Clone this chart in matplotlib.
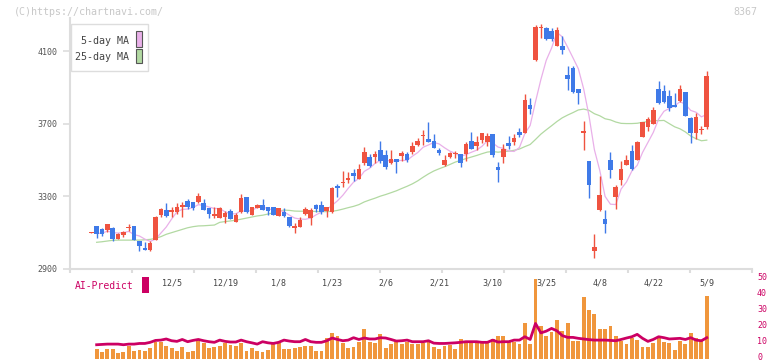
import numpy as np
import pandas as pd
import matplotlib
matplotlib.use("Agg")
import matplotlib.pyplot as plt
from matplotlib.patches import Rectangle
from matplotlib.transforms import blended_transform_factory

# ---------------- data ----------------
opens = [3100, 3136, 3120, 3114, 3127, 3065, 3087, 3126, 3136, 3054,
         3017, 3004, 3059, 3197, 3225, 3212, 3214, 3241, 3274, 3267,
         3270, 3261, 3237, 3192, 3179, 3188, 3219, 3160, 3215, 3294,
         3197, 3237, 3252, 3241, 3241, 3193, 3215, 3186, 3124, 3133,
         3201, 3182, 3252, 3252, 3219, 3215, 3357, 3372, 3390, 3427,
         3397, 3485, 3516, 3518, 3555, 3527, 3482, 3505, 3524, 3533,
         3544, 3583, 3630, 3616, 3605, 3555, 3472, 3518, 3535, 3533,
         3535, 3603, 3577, 3612, 3599, 3643, 3461, 3516, 3594, 3597,
         3654, 3649, 3801, 4052, 4225, 4227, 4208, 4129, 4126, 3970,
         4006, 3891, 3647, 3494, 2999, 3225, 3175, 3500, 3294, 3390,
         3472, 3551, 3500, 3628, 3683, 3698, 3891, 3880, 3852, 3803,
         3825, 3874, 3729, 3650, 3663, 3680]
highs = [3104, 3137, 3127, 3149, 3133, 3096, 3111, 3148, 3137, 3055,
         3050, 3054, 3192, 3237, 3261, 3243, 3261, 3270, 3283, 3268,
         3316, 3285, 3238, 3241, 3241, 3219, 3228, 3206, 3311, 3295,
         3240, 3256, 3285, 3242, 3242, 3238, 3234, 3187, 3155, 3184,
         3239, 3234, 3259, 3274, 3242, 3349, 3368, 3439, 3434, 3449,
         3476, 3573, 3533, 3551, 3605, 3555, 3555, 3506, 3551, 3546,
         3601, 3619, 3665, 3711, 3643, 3564, 3527, 3546, 3551, 3534,
         3599, 3652, 3630, 3648, 3649, 3644, 3489, 3588, 3632, 3643,
         3676, 3863, 3841, 4245, 4249, 4232, 4227, 4230, 4181, 4016,
         4016, 3893, 3717, 3495, 3093, 3412, 3225, 3544, 3361, 3494,
         3527, 3583, 3606, 3710, 3735, 3790, 3935, 3913, 3885, 3867,
         3913, 3875, 3739, 3761, 3689, 3990]
lows = [3099, 3069, 3083, 3105, 3054, 3065, 3078, 3109, 3058, 3001,
        3005, 2999, 3058, 3188, 3184, 3188, 3201, 3188, 3230, 3225,
        3261, 3224, 3182, 3182, 3178, 3155, 3174, 3159, 3210, 3206,
        3196, 3234, 3225, 3197, 3196, 3192, 3188, 3133, 3100, 3132,
        3197, 3142, 3212, 3201, 3188, 3206, 3298, 3349, 3375, 3384,
        3396, 3472, 3460, 3482, 3482, 3449, 3478, 3430, 3494, 3491,
        3531, 3577, 3583, 3598, 3567, 3527, 3467, 3513, 3511, 3463,
        3496, 3561, 3555, 3594, 3575, 3515, 3379, 3485, 3559, 3584,
        3628, 3648, 3755, 4047, 4172, 4162, 4157, 4128, 4083, 3887,
        3869, 3810, 3555, 3293, 2962, 3221, 3100, 3403, 3232, 3362,
        3471, 3445, 3499, 3627, 3661, 3697, 3806, 3812, 3770, 3793,
        3817, 3741, 3595, 3617, 3643, 3669]
closes = [3102, 3092, 3094, 3148, 3065, 3091, 3103, 3128, 3060, 3026,
          3006, 3041, 3186, 3230, 3192, 3225, 3241, 3252, 3241, 3234,
          3302, 3225, 3203, 3201, 3234, 3210, 3175, 3197, 3289, 3215,
          3239, 3252, 3226, 3219, 3197, 3237, 3192, 3138, 3138, 3170,
          3230, 3225, 3228, 3212, 3241, 3348, 3348, 3381, 3401, 3412,
          3449, 3544, 3467, 3533, 3496, 3463, 3505, 3487, 3537, 3500,
          3577, 3605, 3633, 3599, 3568, 3537, 3500, 3540, 3540, 3482,
          3588, 3562, 3599, 3647, 3634, 3529, 3447, 3561, 3577, 3621,
          3639, 3830, 3783, 4232, 4229, 4168, 4168, 4217, 4107, 3948,
          3874, 3867, 3660, 3362, 3021, 3307, 3148, 3445, 3353, 3450,
          3500, 3449, 3601, 3709, 3724, 3775, 3816, 3817, 3788, 3794,
          3891, 3742, 3650, 3737, 3667, 3962]

# 25-day MA for the first candles (earlier history not shown)
ma25_head = [3047, 3050, 3054, 3058, 3059, 3059, 3059, 3059, 3059, 3061,
             3063, 3069, 3078, 3091, 3100, 3109, 3118, 3127, 3133, 3137,
             3138, 3140, 3142]

# volume (candles 1..115)
volume = [5.9, 4.1, 5.9, 5.9, 3.5, 4.1, 8.0, 4.7, 5.3, 4.7,
          6.7, 10.6, 10.6, 8.0, 6.7, 4.7, 7.3, 4.1, 4.7, 11.2,
          9.4, 6.7, 7.3, 8.0, 9.4, 8.5, 8.0, 9.4, 4.7, 6.7,
          4.7, 4.1, 5.3, 9.4, 9.4, 5.9, 5.9, 6.7, 7.3, 8.0,
          8.0, 4.7, 4.7, 12.8, 15.9, 14.0, 9.4, 6.7, 7.3, 10.6,
          18.4, 10.6, 9.4, 15.3, 6.7, 9.3, 10.2, 9.3, 10.2, 9.3,
          9.3, 9.4, 10.2, 7.3, 5.9, 8.0, 8.5, 5.9, 12.0, 9.4,
          10.2, 10.2, 10.2, 9.4, 12.0, 14.0, 14.0, 10.2, 10.2, 9.0,
          22.2, 9.0, 49.7, 20.4, 14.0, 16.5, 24.0, 17.2, 22.2, 11.1,
          11.1, 38.4, 30.3, 27.8, 18.4, 18.4, 20.4, 14.0, 11.1, 9.0,
          13.0, 11.5, 7.2, 7.2, 9.4, 13.6, 10.5, 9.4, 5.3, 11.1,
          9.0, 15.9, 13.0, 11.1, 39.0]

# AI-Predict line (candles 1..115)
ai_predict = [8.6, 8.8, 9.0, 9.0, 9.0, 8.6, 9.0, 9.0, 9.4, 9.4,
              10.1, 11.3, 11.5, 12.2, 11.1, 10.7, 11.9, 10.5, 11.3, 11.9,
              11.1, 10.5, 10.1, 11.5, 10.7, 10.3, 10.3, 11.5, 10.5, 9.8,
              9.0, 10.5, 9.8, 9.4, 10.1, 11.5, 10.9, 10.5, 10.5, 11.9,
              10.5, 10.1, 10.1, 11.1, 12.8, 11.9, 11.1, 11.5, 13.0, 11.9,
              12.8, 12.2, 12.2, 13.0, 12.8, 11.9, 10.9, 11.1, 11.5, 10.5,
              10.5, 10.5, 11.1, 9.6, 9.4, 9.4, 9.6, 9.8, 10.1, 10.5,
              10.5, 10.5, 10.1, 10.1, 11.5, 10.3, 10.5, 10.5, 11.5, 11.5,
              13.6, 11.9, 21.9, 16.0, 17.1, 18.8, 17.3, 14.3, 13.2, 13.2,
              12.6, 12.2, 11.8, 11.5, 11.5, 11.5, 11.3, 11.1, 11.9, 12.8,
              13.6, 15.1, 12.6, 10.7, 11.9, 13.6, 13.0, 12.2, 12.4, 12.6,
              11.9, 13.0, 11.5, 11.1, 13.0]

date_labels = ["12/5", "12/19", "1/8", "1/23", "2/6", "2/21",
               "3/10", "3/25", "4/8", "4/22", "5/9"]
date_label_idx = [15, 25, 35, 45, 55, 65, 75, 85, 95, 105, 115]
price_ticks = [2900, 3300, 3700, 4100]
vol_ticks = [0, 10, 20, 30, 40, 50]

# ---------------- derived ----------------
n = len(closes)
idx = np.arange(n)
o = np.array(opens, float)
h = np.array(highs, float)
l = np.array(lows, float)
c = np.array(closes, float)
ma5 = pd.Series(c).rolling(5, min_periods=1).mean().values
ma25 = pd.Series(c).rolling(25).mean().values
ma25[1:1 + len(ma25_head)] = ma25_head

# ---------------- style ----------------
W, H = 772, 361
UP = "#ef5340"
DOWN = "#3f7ae8"
PINK = "#e9b0e9"
GREEN = "#b2d9a2"
CRIMSON = "#cc0063"
ORANGE = "#f0963c"
GRID = "#dddddd"
MONO = "DejaVu Sans Mono"

def fc(x0, y0, x1, y1):
    return [x0 / W, 1 - y1 / H, (x1 - x0) / W, (y1 - y0) / H]

fig = plt.figure(figsize=(W / 100, H / 100), dpi=100)
fig.patch.set_facecolor("white")

xmin, xmax = -3.98, 123.45
ytop = 3300 + (196.3 - 18) * 5.506

# ---------------- price axes ----------------
ax = fig.add_axes(fc(70, 18, 752, 269))
ax.set_xlim(xmin, xmax)
ax.set_ylim(2900, ytop)
for s in ["top", "right"]:
    ax.spines[s].set_visible(False)
for s in ["left", "bottom"]:
    ax.spines[s].set_color(GRID)
    ax.spines[s].set_linewidth(1.5)
ax.set_yticks(price_ticks)
ax.set_yticklabels([str(t) for t in price_ticks])
ax.tick_params(axis="y", length=5, width=1.2, color=GRID, labelsize=6,
               labelcolor="#555555", pad=4)
for t in ax.get_yticklabels():
    t.set_fontfamily(MONO)
ax.set_xticks(np.linspace(xmin, xmax, 12))
ax.set_xticklabels([])
ax.tick_params(axis="x", length=3, width=1.5, color=GRID)

# moving averages
ax.plot(idx[1:], ma25[1:], color=GREEN, lw=0.9, zorder=2)
ax.plot(idx[1:], ma5[1:], color=PINK, lw=0.9, zorder=2)

# candles
up = c >= o
colors = np.where(up, UP, DOWN)
ax.vlines(idx, l, h, colors=colors, lw=1.0, zorder=3)
body_lo = np.minimum(o, c)
body_h = np.maximum(np.abs(c - o), 5.5)
ax.bar(idx, body_h, bottom=body_lo, width=0.86, color=colors, linewidth=0, zorder=4)

# date labels
trans = blended_transform_factory(ax.transData, fig.transFigure)
for lab, i in zip(date_labels, date_label_idx):
    ax.text(i, 1 - 282.5 / H, lab, transform=trans, ha="center", va="center",
            fontsize=6, color="#444444", family=MONO, clip_on=False)

# ---------------- volume axes ----------------
vol_top_px, vol_bot_px = 278.5, 358.5
ax2 = fig.add_axes(fc(70, vol_top_px, 752, vol_bot_px))
ax2.set_xlim(xmin, xmax)
ax2.set_ylim(0, 50)
ax2.patch.set_alpha(0)
for s in ax2.spines.values():
    s.set_visible(False)
ax2.set_xticks([])
ax2.set_yticks([])
ax2.bar(idx[1:], volume, width=0.72, color=ORANGE, linewidth=0, zorder=2)
ax2.plot(idx[1:], ai_predict, color=CRIMSON, lw=2.0, zorder=3)

# right-side scale labels, kept inside the figure
for t in vol_ticks:
    ypx = vol_bot_px - (vol_bot_px - vol_top_px) * t / 50.0 - 0.8
    fig.text(757 / W, 1 - ypx / H, str(t), color=CRIMSON, fontsize=6,
             family=MONO, ha="left", va="center")

# ---------------- annotations ----------------
fig.text(75 / W, 1 - 286 / H, "AI-Predict", color=CRIMSON, fontsize=7,
         family=MONO, ha="left", va="center")
fig.patches.append(Rectangle((142 / W, 1 - 292.7 / H), 6.7 / W, 15.7 / H,
                             transform=fig.transFigure, facecolor=CRIMSON,
                             edgecolor="none", zorder=5))

fig.text(14 / W, 1 - 12 / H, "(C)https://chartnavi.com/", color="#c8c8c8",
         fontsize=7.2, family=MONO, ha="left", va="center")
fig.text(757 / W, 1 - 12 / H, "8367", color="#c8c8c8", fontsize=7.2,
         family=MONO, ha="right", va="center")

# legend box
fig.patches.append(Rectangle((70.7 / W, 1 - 71.3 / H), 77.6 / W, 47.3 / H,
                             transform=fig.transFigure, facecolor="white",
                             edgecolor=GRID, lw=1.0, zorder=5))
fig.text(129.3 / W, 1 - 41 / H, "5-day MA", color="#444444", fontsize=7.2,
         family=MONO, ha="right", va="center", zorder=6)
fig.text(129.3 / W, 1 - 56.7 / H, "25-day MA", color="#444444", fontsize=7.2,
         family=MONO, ha="right", va="center", zorder=6)
fig.patches.append(Rectangle((136.3 / W, 1 - 46.5 / H), 6 / W, 15 / H,
                             transform=fig.transFigure, facecolor=PINK,
                             edgecolor="#555555", lw=0.8, zorder=6))
fig.patches.append(Rectangle((136.3 / W, 1 - 63.3 / H), 6 / W, 14.5 / H,
                             transform=fig.transFigure, facecolor=GREEN,
                             edgecolor="#555555", lw=0.8, zorder=6))

fig.savefig("out.png", dpi=100, facecolor="white")
